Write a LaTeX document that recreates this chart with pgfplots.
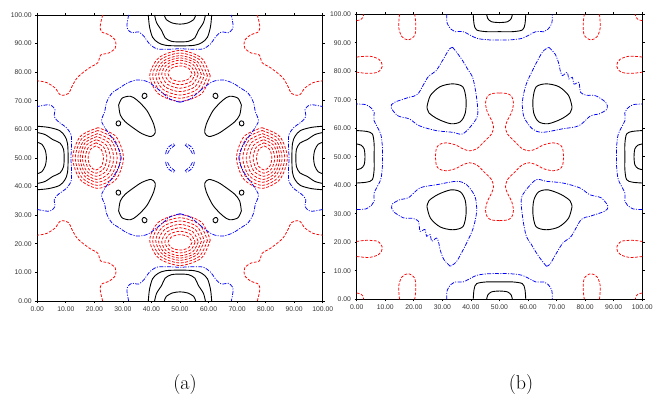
\documentclass[border=0pt]{standalone}
\usepackage{pgfplots}
\usepackage{pgfplotstable}
\pgfplotsset{compat=1.18}
\usepackage{fontspec}
\newfontfamily\arial{Liberation Sans}
\pgfplotsset{
 redc/.style={color=red, line width=0.75pt, dash pattern=on 2.8pt off 1.6pt, smooth},
 bluec/.style={color=blue, line width=0.75pt, dash pattern=on 4pt off 1.4pt on 1pt off 1.4pt, smooth},
 blkc/.style={black, line width=0.9pt, smooth},
 myaxis/.style={scale only axis, xmin=0, xmax=100, ymin=0, ymax=100,
   xtick={0,10,...,100}, ytick={0,10,...,100}, tick pos=both,
   tick align=outside, major tick length=2.2pt,
   axis line style={line width=0.9pt}, tick style={black, line width=0.7pt},
   tick label style={font=\arial\fontsize{6.8}{8}\selectfont, text=black!80},
   /pgf/number format/fixed, /pgf/number format/fixed zerofill,
   /pgf/number format/precision=2, /pgf/number format/assume math mode=true}
}
\newcommand\mfour[2]{%
\addplot[#1] table[x=x,y=y]{#2};
\addplot[#1] table[x expr=100-\thisrow{x},y=y]{#2};
\addplot[#1] table[x=x,y expr=100-\thisrow{y}]{#2};
\addplot[#1] table[x expr=100-\thisrow{x},y expr=100-\thisrow{y}]{#2};}
\newcommand\rfour[2]{%
\addplot[#1] table[x=x,y=y]{#2};
\addplot[#1] table[x=x,y expr=100-\thisrow{y}]{#2};
\addplot[#1] table[x expr=100-\thisrow{y},y=x]{#2};
\addplot[#1] table[x=y,y=x]{#2};}
\newcommand\ptwo[2]{%
\addplot[#1] table[x=x,y=y]{#2};
\addplot[#1] table[x expr=100-\thisrow{x},y expr=100-\thisrow{y}]{#2};}
\newcommand\eight[2]{\mfour{#1}{#2}%
\addplot[#1] table[x expr=100-\thisrow{y},y expr=100-\thisrow{x}]{#2};
\addplot[#1] table[x expr=100-\thisrow{y},y=x]{#2};
\addplot[#1] table[x=y,y=x]{#2};
\addplot[#1] table[x=y,y expr=100-\thisrow{x}]{#2};}
\begin{document}
% ---------------- (a) ----------------
\pgfplotstableread{
x y
54.2 79.5
52.97 81.41
50 82.2
47.03 81.41
45.8 79.5
47.03 77.59
50 76.8
52.97 77.59
54.2 79.5
}\ringA
\pgfplotstableread{
x y
55.3 79.4
53.75 82.09
50 83.2
46.25 82.09
44.7 79.4
46.25 76.71
50 75.6
53.75 76.71
55.3 79.4
}\ringB
\pgfplotstableread{
x y
56.4 79.3
54.52 82.76
50 84.2
45.48 82.76
43.6 79.3
45.48 75.84
50 74.4
54.52 75.84
56.4 79.3
}\ringC
\pgfplotstableread{
x y
57.5 79.1
55.3 83.27
50 85
44.7 83.27
42.5 79.1
44.7 74.93
50 73.2
55.3 74.93
57.5 79.1
}\ringD
\pgfplotstableread{
x y
58.5 78.9
56.01 83.78
50 85.8
43.99 83.78
41.5 78.9
43.99 74.02
50 72
56.01 74.02
58.5 78.9
}\ringE
\pgfplotstableread{
x y
59.6 78.8
56.79 84.39
50 86.7
43.21 84.39
40.4 78.8
43.21 73.21
50 70.9
56.79 73.21
59.6 78.8
}\ringF
\pgfplotstableread{
x y
60.6 78.7
57.49 84.99
50 87.6
42.51 84.99
39.4 78.7
42.51 72.41
50 69.8
57.49 72.41
60.6 78.7
}\ringG
\pgfplotstableread{
x y
32 100
31.4 96.5
31.7 95
33.1 93.8
35.5 94.1
37.5 92.4
39.2 90
41.8 88.2
45.3 88
50 88.2
54.7 88
58.2 88.2
60.8 90
62.5 92.4
64.5 94.1
66.9 93.8
68.3 95
68.6 96.5
68 100
}\aBT
\pgfplotstableread{
x y
38.9 100
39.3 96
40.4 92.2
42.4 90.3
45 89.4
50 89.2
55 89.4
57.6 90.3
59.6 92.2
60.7 96
61.1 100
}\aKO
\pgfplotstableread{
x y
41.1 100
41.8 97.3
43.6 94.5
44.8 92
47 90.8
50 90.6
53 90.8
55.2 92
56.4 94.5
58.2 97.3
58.9 100
}\aKM
\pgfplotstableread{
x y
44.5 100
45.2 98.4
47.3 97.2
50 96.8
52.7 97.2
54.8 98.4
55.5 100
}\aKI
\pgfplotstableread{
x y
22.9 100
22.1 96.5
22.4 94.2
25.3 93
27.4 91
27.3 88.4
25 86.7
22.2 86
21.2 83.3
18.2 81.5
14.2 78.3
12.3 75.3
10.9 72.6
8.2 72
6.2 74.5
3.2 76.4
0 77
}\aRC
\pgfplotstableread{
x y
50 69.5
53.5 70.6
57 73.5
61.2 76.6
65 77.3
68.5 76.2
71 74.6
73.9 72.6
75.7 69.5
76.4 66.2
77.5 63
75.8 59.8
72.9 55.8
71.2 52.5
70.6 50
}\aBC
\pgfplotstableread{
x y
28.5 68.5
29.7 70.9
32.6 71.6
35 70.2
38.4 66.6
40.8 61.8
41.3 58.8
39.8 57.5
36.7 58.5
33.8 60.4
30.8 62.7
29.1 65
28.5 68.5
}\aKB
\pgfplotstableread{
x y
36.7 71.5
37.0 72.4
37.6 72.7
38.3 72.3
38.4 71.5
37.8 70.9
37.2 70.8
36.7 71.5
}\aBuA
\pgfplotstableread{
x y
27.6 62.0
27.9 62.8
28.6 63.0
29.2 62.5
29.1 61.6
28.4 61.2
27.8 61.5
27.6 62.0
}\aBuB
\pgfplotstableread{
x y
45.0 51.4
45.3 52.9
46.3 54.1
47.7 54.9
48.3 54.7
47.6 54.0
46.4 53.0
45.7 51.6
45.0 51.4
}\aBS
% ---------------- (b) ----------------
\pgfplotstableread{
x y
24.6 67.5
25.8 71.5
29.2 74.6
33.6 75.6
37.2 74.5
38.3 70
38 65.3
36.3 62.3
33 61.6
28.5 63.2
25.3 65.4
24.6 67.5
}\bKB
\pgfplotstableread{
x y
33.6 88.4
35.5 86
37.1 83.7
39 80.5
40.6 77.9
41.8 72
42.4 65
40.6 61.5
37.1 58
33.6 58.6
27.8 59.2
21.9 60.9
18.4 63.3
14.4 64.4
12 67.4
13.2 69.1
18.4 70.9
21.4 72
24.9 77.9
27.8 80.2
30.7 84.9
32.4 87.8
33.6 88.4
}\bBB
\pgfplotstableread{
x y
67.3 88.4
69.5 86
70.8 82.6
71.2 80.5
72 78.5
73.7 79.6
74.3 77.3
75.5 77.9
76.1 75.5
77.8 76.1
78.4 72.6
80.5 71.6
83.7 71.4
87.2 69.1
87.7 66.8
84.8 65
81.9 64.4
77.8 60.9
72 59.8
65 58.6
61.5 59.8
58.6 63.9
58 69.1
59.2 75
61.5 80.2
65 86.7
67.3 88.4
}\bBJ
\pgfplotstableread{
x y
31.5 100
31.7 96.8
33 94.8
34.4 93.9
37.3 93.9
42 91.6
46.7 91
50 91
53.3 91
58 91.6
62.7 93.9
65.6 93.9
67 94.8
68.3 96.8
68.5 100
}\bBT
\pgfplotstableread{
x y
40.8 100
41.1 96.5
42 94.5
45.5 93.9
50 93.9
54.5 93.9
58 94.5
58.9 96.5
59.2 100
}\bKO
\pgfplotstableread{
x y
45.5 100
45.9 98.5
47.2 97.4
50 97.1
52.8 97.4
54.1 98.5
54.5 100
}\bKI
\pgfplotstableread{
x y
50 72.4
52.5 72.2
54.2 71.3
54.9 68.8
54.2 65.5
52.8 62.8
52.1 60.5
52.8 58
55.4 55.3
58 52.8
60.5 52.1
62.8 52.8
65.5 54.2
68.8 54.9
71.3 54.2
72.2 52.5
72.4 50
}\bRX
\pgfplotstableread{
x y
15 100
14.7 95.5
15.8 92.2
18 91
20.3 92.6
20.7 96.5
20.3 100
}\bRL
\pgfplotstableread{
x y
0 97.8
1.4 98.1
2.2 98.9
2.4 100
}\bRC
\begin{tikzpicture}
\useasboundingbox (0,0) rectangle (654pt,397pt);
\begin{axis}[myaxis, at={(37.3pt,96pt)}, anchor=south west, width=285.4pt, height=286pt]
\rfour{redc}{\ringA}
\rfour{redc}{\ringB}
\rfour{redc}{\ringC}
\rfour{redc}{\ringD}
\rfour{redc}{\ringE}
\rfour{redc}{\ringF}
\rfour{redc}{\ringG}
\rfour{bluec}{\aBT}
\rfour{blkc}{\aKO}
\rfour{blkc}{\aKM}
\rfour{blkc}{\aKI}
\mfour{redc}{\aRC}
\mfour{bluec}{\aBC}
\mfour{blkc}{\aKB}
\mfour{blkc}{\aBuA}
\mfour{blkc}{\aBuB}
\mfour{bluec}{\aBS}
\end{axis}
\begin{axis}[myaxis, at={(356.7pt,97.7pt)}, anchor=south west, width=285.6pt, height=285pt]
\mfour{blkc}{\bKB}
\ptwo{bluec}{\bBB}
\ptwo{bluec}{\bBJ}
\rfour{bluec}{\bBT}
\rfour{blkc}{\bKO}
\rfour{blkc}{\bKI}
\mfour{redc}{\bRX}
\eight{redc}{\bRL}
\mfour{redc}{\bRC}
\end{axis}
\node[font=\fontsize{20}{24}\selectfont] at (185pt,12pt) {(a)};
\node[font=\fontsize{20}{24}\selectfont] at (521pt,12pt) {(b)};
\end{tikzpicture}
\end{document}
